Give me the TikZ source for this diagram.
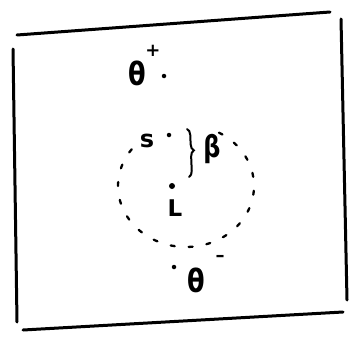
\documentclass[tikz,border=0pt]{standalone}
\usepackage{fontspec}
\usetikzlibrary{decorations.pathreplacing}
\newfontfamily\handfont{DejaVu Sans}
\begin{document}
\begin{tikzpicture}[x=1pt,y=-1pt,
  frame/.style={line width=3pt,line cap=round},
  pt/.style={circle,fill=black,inner sep=0pt,minimum size=#1},
  pt/.default=4.5pt,
  lbl/.style={inner sep=0pt,font=\handfont\bfseries\fontsize{#1}{#1}\selectfont},
  lbl/.default=22,
  bracestyle/.style={line width=2pt,line cap=round,decorate,decoration={brace,amplitude=6pt,aspect=0.45}},
  circ/.style={line width=2.3pt,line cap=round,dash pattern=on 4pt off 14pt}]
\useasboundingbox (0,0) rectangle (358,337);
% frame
\coordinate (tl) at (17,35); \coordinate (tr) at (330,12);
\coordinate (lt) at (13,49); \coordinate (lb) at (17,322);
\coordinate (bl) at (23,330); \coordinate (br) at (343,312);
\coordinate (rt) at (341,19); \coordinate (rb) at (347,300);
\draw[frame] (tl) -- (tr);
\draw[frame] (lt) -- (lb);
\draw[frame] (bl) -- (br);
\draw[frame] (rt) -- (rb);
% dotted circle
\draw[circ] plot[domain=217:-65,samples=80,smooth] ({186+68*cos(\x)},{186+61*sin(\x)});
% theta plus
\node[lbl=32,xscale=0.8] (tp) at (137,73) {θ};
\node[lbl=18] (plus) at (153,51) {+};
\node[pt] (tpd) at (164,76) {};
% s
\node[lbl=24] (s) at (147,141) {s};
\node[pt] (sd) at (169,135) {};
% brace and beta
\coordinate (bt) at (187,129);
\coordinate (bb) at (189,177);
\draw[bracestyle] (bt) -- (bb);
\node[lbl=30,xscale=0.8] (beta) at (212,149) {β};
% L
\node[lbl=23] (L) at (175,208) {L};
\node[pt=6pt] (Ld) at (172,186) {};
% theta minus
\node[pt] (tmd) at (174,267) {};
\node[lbl=32,xscale=0.8] (tm) at (196,280) {θ};
\node[lbl=18] (minus) at (220,258) {–};
\end{tikzpicture}
\end{document}
